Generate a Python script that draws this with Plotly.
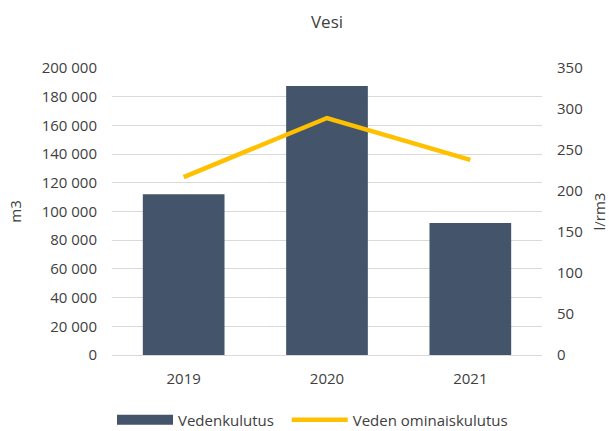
import plotly.graph_objects as go

years = ["2019", "2020", "2021"]
vedenkulutus = [112000, 187500, 92000]
ominaiskulutus = [217, 289, 238]
left_ticks = [0, 20000, 40000, 60000, 80000, 100000, 120000, 140000, 160000, 180000, 200000]
right_ticks = [0, 50, 100, 150, 200, 250, 300, 350]

font_family = "Open Sans, Noto Sans, sans-serif"
text_color = "#404040"
bar_color = "#44546A"
line_color = "#FFC000"
pad = "\u00a0" * 2

fig = go.Figure()
fig.add_trace(go.Bar(
    x=years, y=vedenkulutus, name="Vedenkulutus",
    marker=dict(color=bar_color, line=dict(width=0)),
    width=0.57, yaxis="y", showlegend=False,
))
# legend proxy for the bar series (wide rectangle symbol)
fig.add_trace(go.Scatter(
    x=[None], y=[None], name="Vedenkulutus" + pad, mode="lines",
    line=dict(color=bar_color, width=10), yaxis="y",
))
fig.add_trace(go.Scatter(
    x=years, y=ominaiskulutus, name="Veden ominaiskulutus",
    mode="lines", line=dict(color=line_color, width=4.5),
    yaxis="y2",
))

fig.update_layout(
    width=614, height=431,
    paper_bgcolor="white", plot_bgcolor="white",
    margin=dict(l=112, r=72, t=68, b=76, autoexpand=False),
    separators=", ",
    font=dict(family=font_family, size=15, color=text_color),
    title=dict(text="Vesi", x=0.5, xref="paper", y=1 - 22/431, yanchor="middle",
               font=dict(size=17, color=text_color)),
    xaxis=dict(showgrid=False, showline=True, linecolor="#D9D9D9", ticks="",
               tickfont=dict(size=15), automargin=False, ticklabelstandoff=10),
    yaxis=dict(range=[0, 200000], tickvals=left_ticks, tickformat=",d",
               showgrid=True, gridcolor="#D9D9D9", gridwidth=1, zeroline=False,
               title=dict(text="m3", standoff=16, font=dict(size=15)),
               ticks="", ticklabelstandoff=14, automargin=False),
    yaxis2=dict(range=[0, 350], tickvals=right_ticks, overlaying="y", side="right",
                showgrid=False, zeroline=False, ticks="",
                title=dict(text="l/rm3", standoff=12, font=dict(size=15)),
                ticklabelstandoff=14, automargin=False),
    legend=dict(orientation="h", x=112/614, xanchor="left", xref="container",
                y=1 - 420/431, yanchor="middle", yref="container",
                font=dict(size=15), itemwidth=56),
    bargap=0.43,
)

fig.write_html("out.html", config={"displayModeBar": False},
               post_script="document.body.style.margin='0px';")
